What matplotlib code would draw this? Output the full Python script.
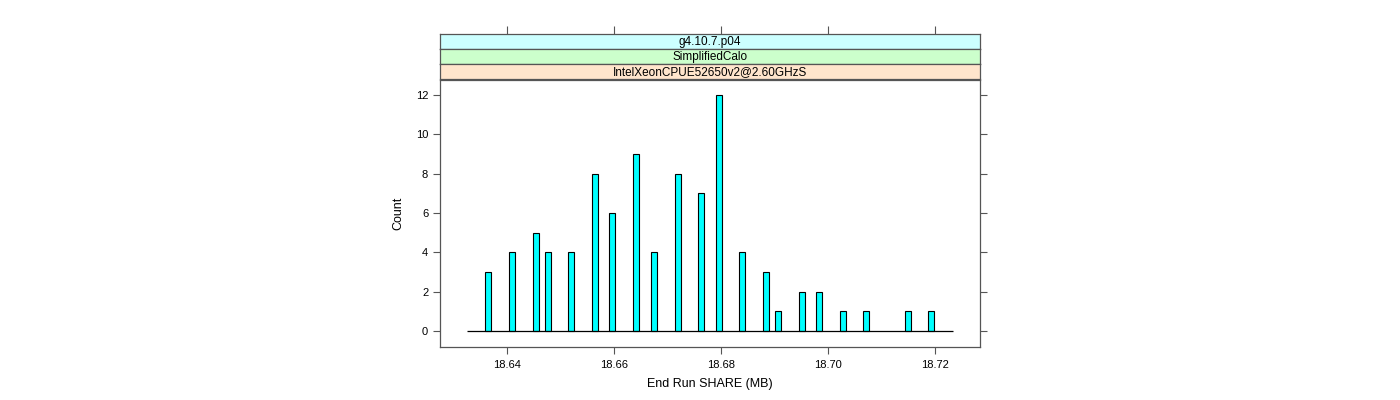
import matplotlib
matplotlib.use("Agg")
import matplotlib.pyplot as plt

# histogram bins (centres, MB) and counts
share_mb = [18.6364, 18.6409, 18.6454, 18.6477, 18.6520, 18.6564, 18.6596,
            18.6641, 18.6675, 18.6720, 18.6763, 18.6796, 18.6839, 18.6884,
            18.6907, 18.6951, 18.6983, 18.7028, 18.7071, 18.7150, 18.7193]
counts = [3, 4, 5, 4, 4, 8, 6, 9, 4, 8, 7, 12, 4, 3, 1, 2, 2, 1, 1, 1, 1]
hist_range = (18.6325, 18.7234)

x_ticks = [18.64, 18.66, 18.68, 18.70, 18.72]
x_labels = ["18.64", "18.66", "18.68", "18.70", "18.72"]
y_ticks = [0, 2, 4, 6, 8, 10, 12]

# strips from top to bottom
strips = ["g4.10.7.p04", "SimplifiedCalo", "IntelXeonCPUE52650v2@2.60GHzS"]
strip_colors = ["#ccffff", "#ccffcc", "#ffe5cc"]

xlim = (18.6275, 18.7284)
frame_col = "#555555"
plt.rcParams["font.family"] = ["Liberation Sans", "DejaVu Sans"]

fig = plt.figure(figsize=(14, 4), dpi=100)
left, width = 440 / 1400, 540 / 1400
ax = fig.add_axes([left, 53 / 400, width, 267 / 400])

ax.bar(share_mb, counts, width=0.0011, color="#00ffff", edgecolor="black",
       linewidth=0.8, zorder=2)
ax.hlines(0, hist_range[0], hist_range[1], color="black", linewidth=0.9, zorder=3)

ax.set_xlim(*xlim)
ax.set_ylim(-0.82, 12.76)
ax.set_xticks(x_ticks)
ax.set_xticklabels(x_labels)
ax.set_yticks(y_ticks)
ax.tick_params(axis="both", direction="out", length=5, width=0.8,
               color=frame_col, labelsize=8, right=True, labelright=False)
ax.tick_params(axis="x", pad=4)
for s in ax.spines.values():
    s.set_color(frame_col)
    s.set_linewidth(0.9)
ax.set_xlabel("End Run SHARE (MB)", fontsize=9, labelpad=6)
ax.set_ylabel("Count", fontsize=9, labelpad=8)

# strips stacked above the panel
n = len(strips)
for i, (label, col) in enumerate(zip(strips, strip_colors)):
    bottom = (400 - 79 + (n - 1 - i) * 15) / 400
    sax = fig.add_axes([left, bottom, width, 15 / 400])
    sax.set_facecolor(col)
    sax.set_xlim(*xlim)
    sax.set_ylim(0, 1)
    sax.set_yticks([])
    for s in sax.spines.values():
        s.set_color(frame_col)
        s.set_linewidth(0.9)
    if i == 0:
        sax.set_xticks(x_ticks)
        sax.tick_params(axis="x", bottom=False, labelbottom=False, top=True,
                        direction="out", length=6, width=0.8, color=frame_col)
    else:
        sax.set_xticks([])
    sax.text(0.5, 0.45, label, transform=sax.transAxes, ha="center",
             va="center", fontsize=8.5)

fig.savefig("out.png", dpi=100)
